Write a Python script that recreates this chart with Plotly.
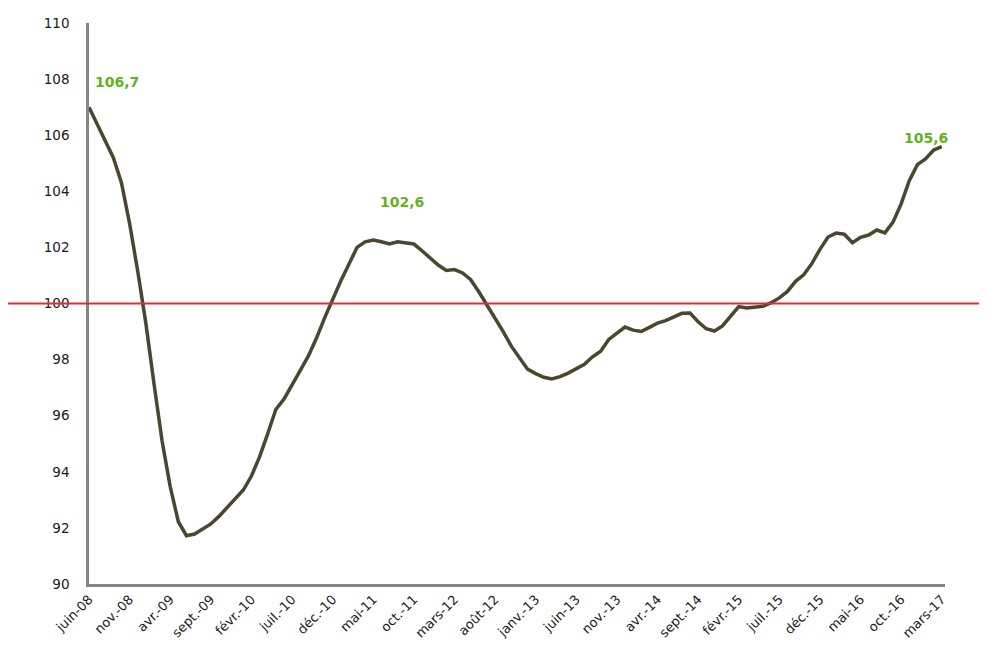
import plotly.graph_objects as go

month_names = ["janv.", "févr.", "mars", "avr.", "mai", "juin", "juil.", "août", "sept.", "oct.", "nov.", "déc."]
categories = []
m, y = 5, 8
for _ in range(106):
    categories.append(f"{month_names[m]}-{y:02d}")
    m += 1
    if m == 12:
        m = 0
        y += 1

values = [
    107.0, 106.4, 105.8, 105.2, 104.3, 102.85, 101.15, 99.3, 97.15, 95.1,
    93.47, 92.22, 91.72, 91.78, 91.96, 92.14, 92.41, 92.73, 93.07, 93.35,
    93.85, 94.53, 95.35, 96.22, 96.59, 97.08, 97.61, 98.12, 98.76, 99.48,
    100.15, 100.8, 101.4, 102.0, 102.2, 102.26, 102.2, 102.12, 102.2, 102.15,
    102.12, 101.88, 101.63, 101.37, 101.18, 101.21, 101.09, 100.85, 100.42, 99.95,
    99.5, 99.0, 98.48, 98.05, 97.66, 97.5, 97.37, 97.31, 97.39, 97.52,
    97.68, 97.83, 98.1, 98.3, 98.72, 98.95, 99.16, 99.05, 99.0, 99.15,
    99.3, 99.39, 99.52, 99.65, 99.66, 99.35, 99.1, 99.02, 99.2, 99.55,
    99.89, 99.84, 99.86, 99.9, 100.03, 100.2, 100.43, 100.79, 101.02, 101.42,
    101.93, 102.37, 102.51, 102.47, 102.17, 102.36, 102.44, 102.62, 102.52, 102.9,
    103.55, 104.38, 104.95, 105.15, 105.47, 105.59,
]

tick_labels = categories[::5]
y_ticks = list(range(90, 111, 2))
reference_level = 100
annotations_text = ["106,7", "102,6", "105,6"]
annotations_x = [0.5, 38.5, 103]
annotations_y = [107.9, 103.62, 105.9]

FONT = "DejaVu Sans"

fig = go.Figure()
fig.add_trace(go.Scatter(
    x=categories, y=values, mode="lines",
    line=dict(color="#4A4630", width=3.5),
    hoverinfo="skip", showlegend=False,
))

fig.add_shape(type="line", xref="paper", yref="y",
              x0=-0.0946, x1=1.049, y0=reference_level, y1=reference_level,
              line=dict(color="#D8303C", width=2.2), layer="above")

anchors = ["left", "center", "center"]
for t, ax, ay, anc in zip(annotations_text, annotations_x, annotations_y, anchors):
    fig.add_annotation(x=ax, y=ay, text=f"<b>{t}</b>", showarrow=False,
                       xanchor=anc, yanchor="middle",
                       font=dict(color="#62B21E", size=14, family=FONT))

fig.update_layout(
    width=979, height=640,
    margin=dict(l=81, r=42, t=15, b=64, autoexpand=False),
    paper_bgcolor="white", plot_bgcolor="white",
    font=dict(family=FONT, color="#1a1a1a"),
)
fig.update_xaxes(
    type="category", range=[0, 105.4], automargin=False,
    tickmode="array", tickvals=tick_labels, ticktext=tick_labels,
    tickangle=-45, tickfont=dict(size=13),
    showgrid=False, zeroline=False,
    showline=True, linecolor="#858585", linewidth=2.5,
    ticks="",
)
fig.update_yaxes(
    range=[90, 110], tickvals=y_ticks, automargin=False,
    tickfont=dict(size=13.5),
    showgrid=False, zeroline=False,
    showline=True, linecolor="#858585", linewidth=2.5,
    ticks="", ticklabelstandoff=14,
)

fig.write_html("out.html")
